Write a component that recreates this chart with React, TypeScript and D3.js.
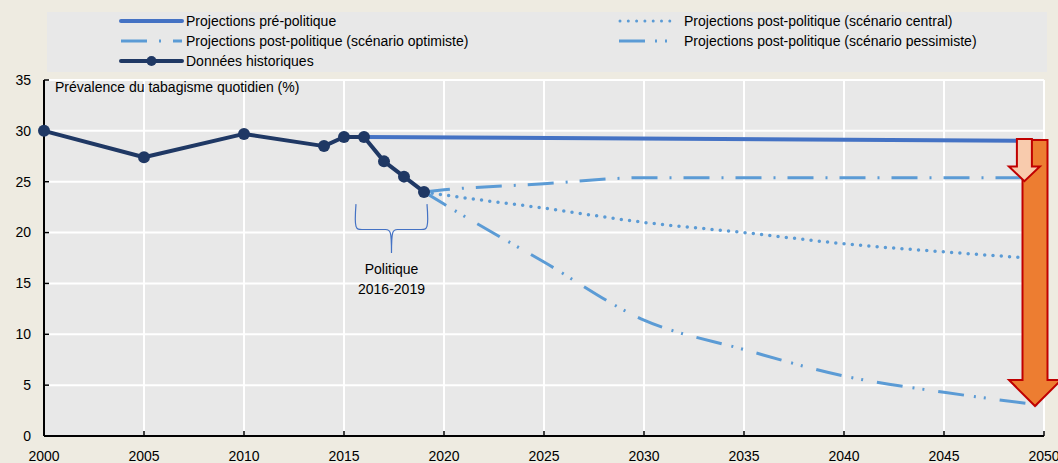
import React from "react";
import * as d3 from "d3";

const histYears = [2000, 2005, 2010, 2014, 2015, 2016, 2017, 2018, 2019];
const histValues = [30, 27.4, 29.7, 28.5, 29.4, 29.4, 27.0, 25.5, 24.0];

const preYears = [2016, 2050];
const preValues = [29.4, 29.0];

const projYears = [2019, 2020, 2025, 2030, 2035, 2040, 2045, 2050];
const optimistValues = [24.0, 24.2, 24.8, 25.4, 25.4, 25.4, 25.4, 25.4];
const centralValues = [24.0, 23.7, 22.4, 21.0, 20.0, 18.9, 18.1, 17.4];
const pessimistValues = [24.0, 22.8, 17.1, 11.4, 8.5, 5.9, 4.3, 3.0];

const xTicks = [2000, 2005, 2010, 2015, 2020, 2025, 2030, 2035, 2040, 2045, 2050];
const yTicks = [0, 5, 10, 15, 20, 25, 30, 35];

const legendLeft = [
  "Projections pré-politique",
  "Projections post-politique (scénario optimiste)",
  "Données historiques",
];
const legendRight = [
  "Projections post-politique (scénario central)",
  "Projections post-politique (scénario pessimiste)",
];

const W = 1058;
const H = 463;
const FONT = "'Liberation Sans', Arial, sans-serif";
const BEIGE = "#EEEBE1";
const GRAY = "#E8E8E8";
const NAVY = "#1F3864";
const BLUE = "#4472C4";
const LIGHT = "#5B9BD5";

export default function App() {
  const x = d3.scaleLinear().domain([2000, 2050]).range([44, 1044]);
  const y = d3.scaleLinear().domain([0, 35]).range([436, 80]);

  const line = d3
    .line<[number, number]>()
    .x((d) => x(d[0]))
    .y((d) => y(d[1]));
  const curve = d3
    .line<[number, number]>()
    .x((d) => x(d[0]))
    .y((d) => y(d[1]))
    .curve(d3.curveMonotoneX);

  const zip = (xs: number[], vs: number[]) =>
    xs.map((v, i) => [v, vs[i]] as [number, number]);

  // arrows (annotation)
  const bigCx = x(2049.55);
  const bigTop = y(29.1);
  const bigBase = y(5.5);
  const bigTip = y(2.95);
  const bigShaft = 12.5;
  const bigHead = 26;
  const bigArrow = [
    [bigCx - bigShaft, bigTop],
    [bigCx + bigShaft, bigTop],
    [bigCx + bigShaft, bigBase],
    [bigCx + bigHead, bigBase],
    [bigCx, bigTip],
    [bigCx - bigHead, bigBase],
    [bigCx - bigShaft, bigBase],
  ];
  const smCx = x(2049.02);
  const smTop = y(29.2);
  const smBase = y(26.5);
  const smTip = y(25.05);
  const smShaft = 7.5;
  const smHead = 15.5;
  const smallArrow = [
    [smCx - smShaft, smTop],
    [smCx + smShaft, smTop],
    [smCx + smShaft, smBase],
    [smCx + smHead, smBase],
    [smCx, smTip],
    [smCx - smHead, smBase],
    [smCx - smShaft, smBase],
  ];
  const pts = (p: number[][]) => p.map((q) => q.join(",")).join(" ");

  // brace
  const bL = x(2015.6);
  const bR = x(2019.15);
  const bM = (bL + bR) / 2;
  const bTop = y(22.8);
  const bBot = y(20.3);
  const bPt = y(18.0);
  const bracePath = `M${bL},${bTop} C${bL - 2},${bBot} ${bL},${bBot} ${bL + 6},${bBot} L${bM - 6},${bBot} C${bM - 1},${bBot} ${bM},${bBot + 2} ${bM},${bPt} C${bM},${bBot + 2} ${bM + 1},${bBot} ${bM + 6},${bBot} L${bR - 6},${bBot} C${bR},${bBot} ${bR + 2},${bBot} ${bR},${bTop}`;

  const legendSample = (kind: string, x0: number, x1: number, yy: number) => {
    if (kind === "pre")
      return <line x1={x0} x2={x1} y1={yy} y2={yy} stroke={BLUE} strokeWidth={4} strokeLinecap="round" />;
    if (kind === "opt")
      return <line x1={x0} x2={x1} y1={yy} y2={yy} stroke={LIGHT} strokeWidth={3} strokeDasharray="26 12 2 12" />;
    if (kind === "hist")
      return (
        <g>
          <line x1={x0} x2={x1} y1={yy} y2={yy} stroke={NAVY} strokeWidth={4} strokeLinecap="round" />
          <circle cx={(x0 + x1) / 2} cy={yy} r={5} fill={NAVY} />
        </g>
      );
    if (kind === "cen")
      return <line x1={x0 + 1} x2={x1} y1={yy} y2={yy} stroke={LIGHT} strokeWidth={3} strokeDasharray="0 8.3" strokeLinecap="round" />;
    return <line x1={x0} x2={x1} y1={yy} y2={yy} stroke={LIGHT} strokeWidth={3} strokeDasharray="26 10 2 8 2 14" />;
  };

  return (
    <svg
      width={W}
      height={H}
      style={{ position: "absolute", left: 0, top: 0, fontFamily: FONT }}
    >
      <rect x={0} y={0} width={W} height={H} fill={BEIGE} />
      {/* legend box */}
      <rect x={47} y={12} width={1000} height={60} fill={GRAY} />
      {legendLeft.map((t, i) => (
        <g key={t}>
          {legendSample(["pre", "opt", "hist"][i], 121, 182, 21 + i * 20)}
          <text x={186} y={21 + i * 20} dy="0.35em" fontSize={14} fill="#000">
            {t}
          </text>
        </g>
      ))}
      {legendRight.map((t, i) => (
        <g key={t}>
          {legendSample(["cen", "pes"][i], 619, 677, 21 + i * 20)}
          <text x={684} y={21 + i * 20} dy="0.35em" fontSize={14} fill="#000">
            {t}
          </text>
        </g>
      ))}

      {/* plot area */}
      <rect x={x(2000)} y={y(35)} width={x(2050) - x(2000)} height={y(0) - y(35)} fill={GRAY} />
      {yTicks.map((t) => (
        <line key={"gy" + t} x1={x(2000)} x2={x(2050)} y1={y(t)} y2={y(t)} stroke="#fff" strokeWidth={2} />
      ))}
      {xTicks.map((t) => (
        <line key={"gx" + t} x1={x(t)} x2={x(t)} y1={y(0)} y2={y(35)} stroke="#fff" strokeWidth={2} />
      ))}

      {/* axes */}
      <line x1={x(2000)} x2={x(2000)} y1={y(35)} y2={y(0)} stroke="#000" strokeWidth={2} />
      <line x1={x(2000)} x2={x(2050)} y1={y(0)} y2={y(0)} stroke="#000" strokeWidth={2} />
      {yTicks.map((t) => (
        <g key={"ty" + t}>
          <line x1={x(2000)} x2={x(2000) + 5} y1={y(t)} y2={y(t)} stroke="#000" strokeWidth={1.5} />
          <text x={31} y={y(t)} dy="0.35em" textAnchor="end" fontSize={14} fill="#000">
            {t}
          </text>
        </g>
      ))}
      {xTicks.map((t) => (
        <g key={"tx" + t}>
          <line x1={x(t)} x2={x(t)} y1={y(0)} y2={y(0) - 5} stroke="#000" strokeWidth={1.5} />
          <text x={x(t)} y={456} dy="0.35em" textAnchor="middle" fontSize={14} fill="#000">
            {t}
          </text>
        </g>
      ))}
      <text x={55} y={87} dy="0.35em" fontSize={14} fill="#000">
        Prévalence du tabagisme quotidien (%)
      </text>

      {/* series */}
      <path d={line(zip(preYears, preValues)) || ""} fill="none" stroke={BLUE} strokeWidth={4} />
      <path d={curve(zip(projYears, optimistValues)) || ""} fill="none" stroke={LIGHT} strokeWidth={3} strokeDasharray="26 12 2 12" />
      <path d={curve(zip(projYears, centralValues)) || ""} fill="none" stroke={LIGHT} strokeWidth={3.5} strokeDasharray="0 8.3" strokeLinecap="round" />
      <path d={curve(zip(projYears, pessimistValues)) || ""} fill="none" stroke={LIGHT} strokeWidth={3} strokeDasharray="26 10 2 8 2 14" />
      <path d={line(zip(histYears, histValues)) || ""} fill="none" stroke={NAVY} strokeWidth={4} strokeLinejoin="round" />
      {histYears.map((yr, i) => (
        <circle key={"h" + yr} cx={x(yr)} cy={y(histValues[i])} r={6} fill={NAVY} />
      ))}

      {/* brace annotation */}
      <path d={bracePath} fill="none" stroke={BLUE} strokeWidth={1.2} />
      <text x={bM} y={269} dy="0.35em" textAnchor="middle" fontSize={14} fill="#000">
        Politique
      </text>
      <text x={bM} y={289} dy="0.35em" textAnchor="middle" fontSize={14} fill="#000">
        2016-2019
      </text>

      {/* arrows */}
      <polygon points={pts(bigArrow)} fill="#ED7D31" stroke="#C00000" strokeWidth={2} />
      <polygon points={pts(smallArrow)} fill="#F8CBAD" stroke="#C00000" strokeWidth={2} />
    </svg>
  );
}
